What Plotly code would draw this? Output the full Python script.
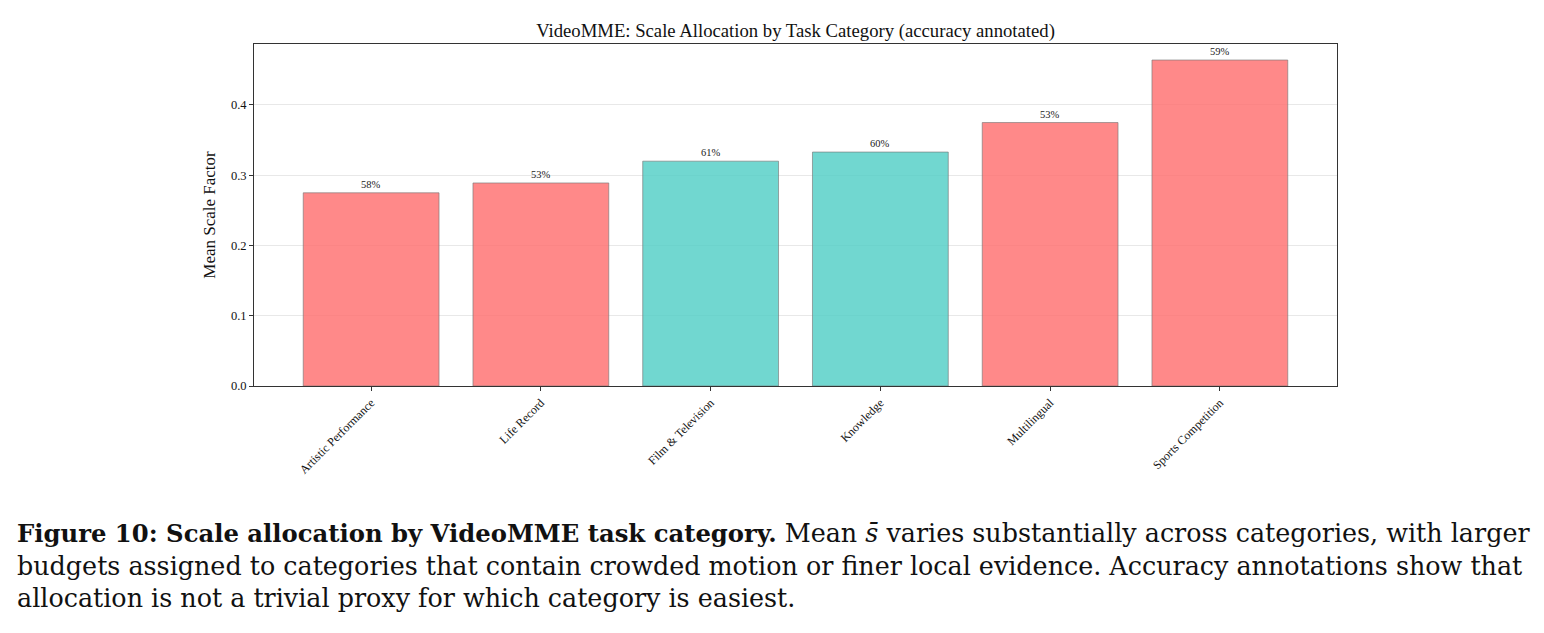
import plotly.graph_objects as go

categories = ["Artistic Performance", "Life Record", "Film & Television", "Knowledge", "Multilingual", "Sports Competition"]
scale_values = [0.275, 0.289, 0.320, 0.333, 0.375, 0.464]
accuracy = ["58%", "53%", "61%", "60%", "53%", "59%"]
above_median = [False, False, True, True, False, False]

RED = "rgba(255,107,107,0.8)"
TEAL = "rgba(78,205,196,0.8)"
colors = [TEAL if a else RED for a in above_median]

W, H = 1544, 633
L, R, T, B = 254, 207, 44, 247
pw = W - L - R
ph = H - T - B

fig = go.Figure()
fig.add_trace(go.Bar(
    x=list(range(len(categories))), y=scale_values,
    width=0.8,
    marker=dict(color=colors, line=dict(color="rgba(120,120,120,0.8)", width=0.8)),
    showlegend=False, hoverinfo="skip",
))

for i, (v, a) in enumerate(zip(scale_values, accuracy)):
    fig.add_annotation(x=i, y=v, text=a, showarrow=False, yanchor="bottom", yshift=1,
                       font=dict(family="Liberation Serif", size=10.5, color="#222"))

font = dict(family="Liberation Serif", color="#111")
fig.update_layout(
    width=W, height=H,
    margin=dict(l=L, r=R, t=T, b=B, autoexpand=False),
    paper_bgcolor="white", plot_bgcolor="white",
    font=font,
    title=dict(text="VideoMME: Scale Allocation by Task Category (accuracy annotated)",
               x=(L + pw / 2) / W, xanchor="center", y=1 - 30 / H, yanchor="middle",
               font=dict(family="Liberation Serif", size=18.7, color="#111")),
    xaxis=dict(range=[-0.69, 5.69], tickmode="array", tickvals=list(range(len(categories))),
               ticktext=categories, tickangle=-45, tickfont=dict(size=12, family="Liberation Serif"),
               showgrid=False, zeroline=False, showline=True, linecolor="#333", linewidth=1, mirror=True,
               ticks="outside", ticklen=4, tickcolor="#333"),
    yaxis=dict(range=[0, 0.4868], tickvals=[0, 0.1, 0.2, 0.3, 0.4], ticktext=["0.0", "0.1", "0.2", "0.3", "0.4"],
               tickfont=dict(size=12.5, family="Liberation Serif"),
               showgrid=True, gridcolor="rgba(0,0,0,0.09)", gridwidth=1, zeroline=False,
               showline=True, linecolor="#333", linewidth=1, mirror=True,
               ticks="outside", ticklen=4, tickcolor="#333",
               title=dict(text="Mean Scale Factor", font=dict(size=17, family="Liberation Serif"), standoff=10)),
)

cap_lines = [
    "<span style='font-size:24.3px'><b>Figure 10: Scale allocation by VideoMME task category.</b></span> Mean <i>s̄</i> varies substantially across categories, with larger",
    "budgets assigned to categories that contain crowded motion or finer local evidence. Accuracy annotations show that",
    "allocation is not a trivial proxy for which category is easiest.",
]
cap_y = [533, 566, 598]
for txt, yy in zip(cap_lines, cap_y):
    fig.add_annotation(xref="paper", yref="paper", x=(15 - L) / pw, y=(H - B - yy) / ph,
                       xanchor="left", yanchor="middle", text=txt, showarrow=False, align="left",
                       font=dict(family="DejaVu Serif", size=25.4, color="#111"))

fig.write_html("out.html")
